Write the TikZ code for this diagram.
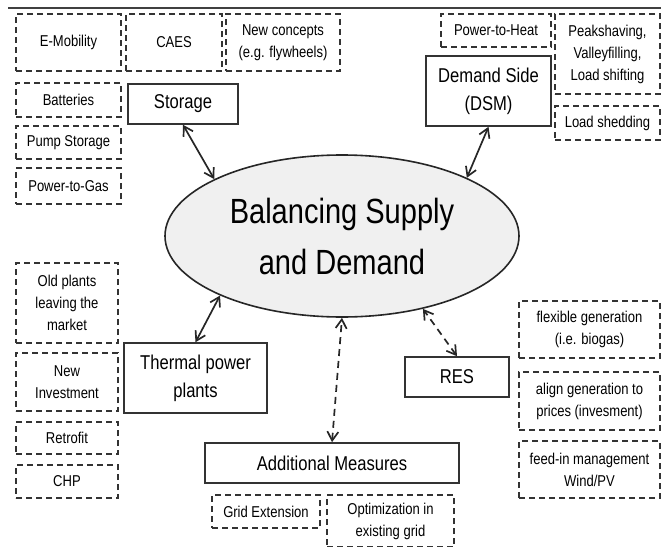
\documentclass[tikz,border=0pt]{standalone}
\usepackage{fontspec}
\setmainfont{Liberation Sans}[FakeStretch=0.83]
\usepackage{tikz}
\usetikzlibrary{arrows.meta,positioning,shapes.geometric}
\usepackage{xcolor}

\begin{document}
\begin{tikzpicture}[
    x=1pt, y=-1pt,
    dbox/.style={rectangle, draw=black!80, dash pattern=on 6pt off 4pt, line width=1.4pt, inner sep=0pt, align=center, font=\fontsize{15.7}{22}\selectfont},
    sbox/.style={rectangle, draw=black!80, line width=1.6pt, inner sep=0pt, align=center, font=\fontsize{20}{28}\selectfont},
    hub/.style={ellipse, draw=black!85, fill=black!6, line width=1.6pt, inner sep=0pt, minimum width=354pt, minimum height=162pt, align=center, font=\fontsize{35}{51}\selectfont},
    arrow/.style={{Straight Barb[length=9pt,width=11pt]}-{Straight Barb[length=9pt,width=11pt]}, line width=1.7pt, black!85},
    darrow/.style={arrow, dash pattern=on 7pt off 5pt}
]
\useasboundingbox (0,0) rectangle (661,546);
\draw[black!75, line width=1.5pt] (8,8) -- (661,8);

\node[hub] (bal) at (342,236) {Balancing Supply\\and Demand};

% Main areas
\node[sbox, minimum width=110pt, minimum height=40pt] (stor) at (183,104) {Storage};
\node[sbox, minimum width=125pt, minimum height=70pt] (dsm) at (488.5,91) {Demand Side\\(DSM)};
\node[sbox, minimum width=143pt, minimum height=70pt] (therm) at (195.5,378) {Thermal power\\plants};
\node[sbox, minimum width=104pt, minimum height=40pt] (res) at (457,377) {RES};
\node[sbox, minimum width=254pt, minimum height=40pt] (add) at (332,463) {Additional Measures};

\draw[arrow] (stor.south) -- (bal.156);
\draw[arrow] (dsm.south) -- (bal.25);
\draw[arrow] (therm.north) -- (bal.206);
\draw[darrow] (add.north) -- (bal.south);
\draw[darrow] (res.north) -- (bal.318);

% Storage options
\node[dbox, minimum width=105pt, minimum height=57pt] (emob) at (68.5,42.5) {E-Mobility};
\node[dbox, minimum width=96pt, minimum height=57pt] (caes) at (174,42.5) {CAES};
\node[dbox, minimum width=114pt, minimum height=57pt] (newc) at (283,42.5) {New concepts\\(e.g. flywheels)};
\node[dbox, minimum width=105pt, minimum height=34pt] (batt) at (68.5,100) {Batteries};
\node[dbox, minimum width=105pt, minimum height=33pt] (pump) at (68.5,142.5) {Pump Storage};
\node[dbox, minimum width=105pt, minimum height=36pt] (ptg) at (68.5,186) {Power-to-Gas};

% DSM options
\node[dbox, minimum width=110pt, minimum height=33pt] (pth) at (496,30.5) {Power-to-Heat};
\node[dbox, minimum width=105pt, minimum height=80pt] (peak) at (607.5,54) {Peakshaving,\\Valleyfilling,\\Load shifting};
\node[dbox, minimum width=105pt, minimum height=34pt] (shed) at (607.5,123) {Load shedding};

% Thermal options
\node[dbox, minimum width=102pt, minimum height=80pt] (old) at (67,303) {Old plants\\leaving the\\market};
\node[dbox, minimum width=102pt, minimum height=58pt] (inv) at (67,382) {New\\Investment};
\node[dbox, minimum width=102pt, minimum height=32pt] (retro) at (67,438) {Retrofit};
\node[dbox, minimum width=102pt, minimum height=33pt] (chp) at (67,481.5) {CHP};

% RES options
\node[dbox, minimum width=141pt, minimum height=57pt] (flex) at (589.5,329.5) {flexible generation\\(i.e. biogas)};
\node[dbox, minimum width=141pt, minimum height=58pt] (align) at (589.5,401) {align generation to\\prices (invesment)};
\node[dbox, minimum width=141pt, minimum height=57pt] (feed) at (589.5,469.5) {feed-in management\\Wind/PV};

% Additional measures
\node[dbox, minimum width=108pt, minimum height=33pt] (grid) at (266,511.5) {Grid Extension};
\node[dbox, minimum width=127pt, minimum height=52pt] (opt) at (390.5,521) {Optimization in\\existing grid};
\end{tikzpicture}
\end{document}
